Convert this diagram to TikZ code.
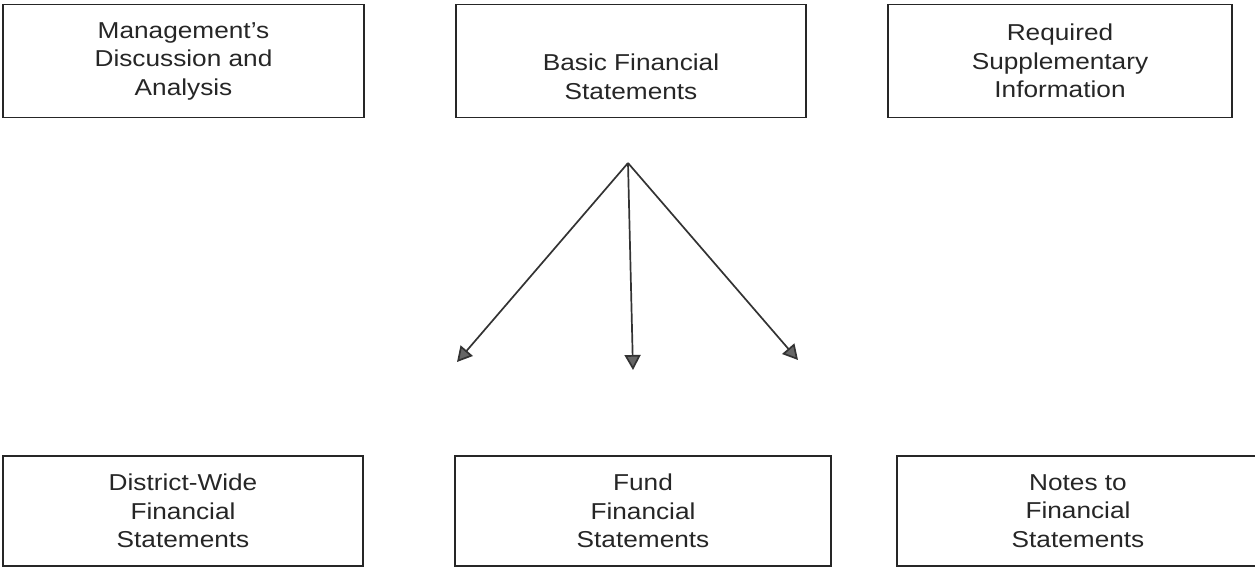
\documentclass[tikz,border=0pt]{standalone}
\usepackage{fontspec}
\setmainfont{Liberation Sans}[FakeStretch=1.14]
\usetikzlibrary{arrows.meta}
\begin{document}
\begin{tikzpicture}[x=1pt,y=-1pt,
  box/.style={draw=black!85, line width=1.7pt, inner sep=0pt, align=center,
    font=\fontsize{23pt}{28.5pt}\selectfont, text=black!85},
  conn/.style={draw=black!80, line width=1.7pt,
    -{Triangle[length=15pt,width=16pt,fill=black!60]}}]
\useasboundingbox (0,0) rectangle (1255,567);
\begin{scope}
\clip (0,0) rectangle (1255,567);
\node[box, minimum width=361pt, minimum height=113pt] (mda) at (183.5,61)
  {Management's\\Discussion and\\Analysis};
\node[box, minimum width=350pt, minimum height=113pt] (bfs) at (631,61)
  {\strut\\Basic Financial\\Statements};
\node[box, minimum width=344pt, minimum height=113pt] (rsi) at (1060,61)
  {Required\\Supplementary\\Information};
\node[box, minimum width=360pt, minimum height=110pt] (dw) at (183,511)
  {District-Wide\\Financial\\Statements};
\node[box, minimum width=376pt, minimum height=110pt] (fund) at (643,511)
  {Fund\\Financial\\Statements};
\node[box, minimum width=362pt, minimum height=110pt] (notes) at (1078,511)
  {Notes to\\Financial\\Statements};
\end{scope}
\coordinate (apex) at (628,163);
\coordinate (tl) at (457,362);
\coordinate (tm) at (633,370);
\coordinate (tr) at (798,360);
\draw[conn] (apex) -- (tl);
\draw[conn] (apex) -- (tm);
\draw[conn] (apex) -- (tr);
\end{tikzpicture}
\end{document}
